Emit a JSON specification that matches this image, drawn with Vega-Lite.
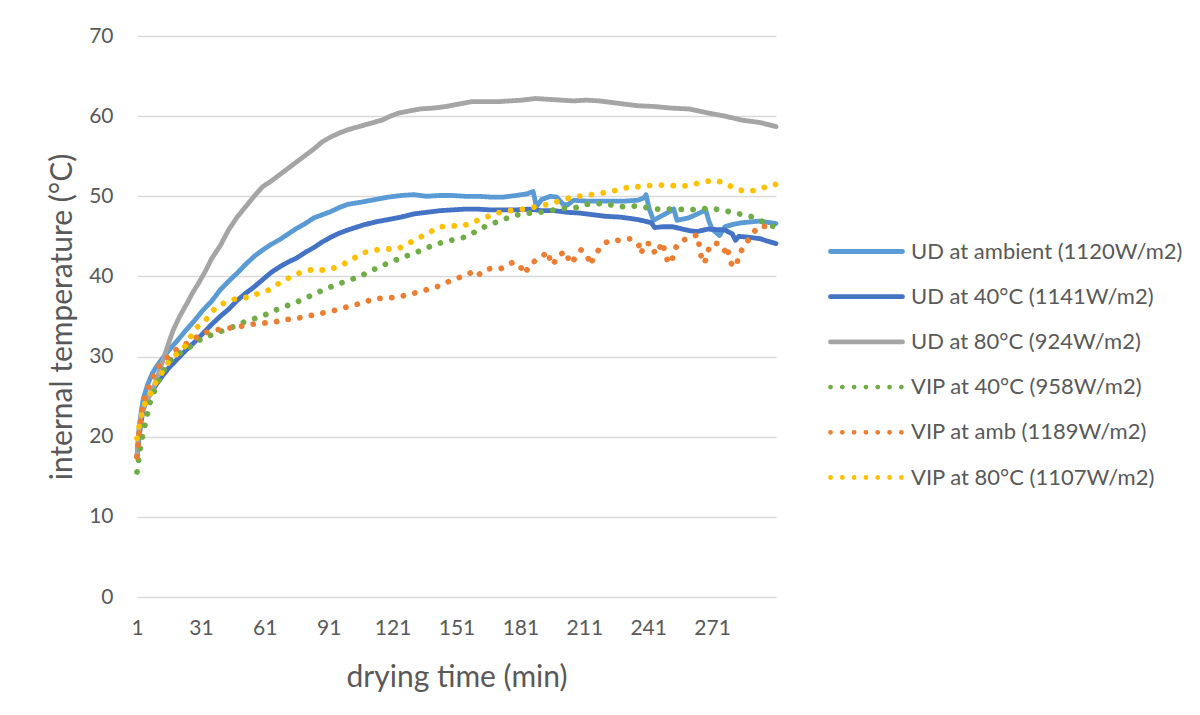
{
  "$schema": "https://vega.github.io/schema/vega-lite/v6.json",
  "autosize": "none",
  "width": 639,
  "height": 561,
  "padding": {"left": 137, "top": 36, "right": 424, "bottom": 118},
  "background": "white",
  "config": {
    "font": "Lato",
    "view": {"stroke": null},
    "axis": {
      "labelFont": "Lato",
      "titleFont": "Lato",
      "labelColor": "#595959",
      "titleColor": "#595959",
      "labelFontSize": 21,
      "titleFontSize": 30,
      "titleFontWeight": "normal",
      "gridColor": "#d9d9d9",
      "gridWidth": 1.3,
      "domain": false,
      "ticks": false,
      "tickSize": 0
    },
    "legend": {
      "labelFont": "Lato",
      "labelFontSize": 22,
      "labelColor": "#595959",
      "labelLimit": 400,
      "padding": 0
    }
  },
  "datasets": {
    "series": [
      {"s": "a", "name": "UD at ambient (1120W/m2)"},
      {"s": "b", "name": "UD at 40°C (1141W/m2)"},
      {"s": "c", "name": "UD at 80°C (924W/m2)"},
      {"s": "d", "name": "VIP at 40°C (958W/m2)"},
      {"s": "e", "name": "VIP at amb (1189W/m2)"},
      {"s": "f", "name": "VIP at 80°C (1107W/m2)"}
    ],
    "temps": [
      {"s":"a","t":1,"v":17.5},{"s":"a","t":2,"v":21},{"s":"a","t":3,"v":23.2},{"s":"a","t":4,"v":24.8},{"s":"a","t":6,"v":26.5},{"s":"a","t":8,"v":27.8},{"s":"a","t":10,"v":28.7},{"s":"a","t":13,"v":29.8},{"s":"a","t":16,"v":30.8},{"s":"a","t":20,"v":32.0},{"s":"a","t":24,"v":33.3},{"s":"a","t":28,"v":34.5},{"s":"a","t":32,"v":35.8},{"s":"a","t":36,"v":36.9},{"s":"a","t":40,"v":38.3},{"s":"a","t":44,"v":39.4},{"s":"a","t":48,"v":40.4},{"s":"a","t":52,"v":41.5},{"s":"a","t":56,"v":42.5},{"s":"a","t":60,"v":43.3},{"s":"a","t":64,"v":44.0},{"s":"a","t":68,"v":44.6},{"s":"a","t":72,"v":45.3},{"s":"a","t":76,"v":46.0},{"s":"a","t":80,"v":46.6},{"s":"a","t":84,"v":47.3},{"s":"a","t":88,"v":47.7},{"s":"a","t":92,"v":48.1},{"s":"a","t":96,"v":48.6},{"s":"a","t":100,"v":49.0},{"s":"a","t":107,"v":49.3},{"s":"a","t":113,"v":49.6},{"s":"a","t":119,"v":49.9},{"s":"a","t":125,"v":50.1},{"s":"a","t":131,"v":50.2},{"s":"a","t":137,"v":50.0},{"s":"a","t":143,"v":50.1},{"s":"a","t":149,"v":50.1},{"s":"a","t":155,"v":50.0},{"s":"a","t":161,"v":50.0},{"s":"a","t":167,"v":49.9},{"s":"a","t":173,"v":49.9},{"s":"a","t":179,"v":50.1},{"s":"a","t":184,"v":50.3},{"s":"a","t":187,"v":50.6},{"s":"a","t":188.5,"v":48.7},{"s":"a","t":191,"v":49.6},{"s":"a","t":195,"v":50.0},{"s":"a","t":198,"v":49.9},{"s":"a","t":201,"v":49.0},{"s":"a","t":203,"v":48.9},{"s":"a","t":206,"v":49.5},{"s":"a","t":212,"v":49.4},{"s":"a","t":218,"v":49.4},{"s":"a","t":224,"v":49.4},{"s":"a","t":230,"v":49.4},{"s":"a","t":236,"v":49.5},{"s":"a","t":239,"v":49.8},{"s":"a","t":240,"v":50.2},{"s":"a","t":241.5,"v":48.4},{"s":"a","t":243.5,"v":47.0},{"s":"a","t":247,"v":47.5},{"s":"a","t":253,"v":48.4},{"s":"a","t":254.5,"v":47.0},{"s":"a","t":260,"v":47.3},{"s":"a","t":265,"v":47.9},{"s":"a","t":268,"v":48.3},{"s":"a","t":269.5,"v":46.9},{"s":"a","t":271,"v":45.9},{"s":"a","t":274.5,"v":45.1},{"s":"a","t":277,"v":46.2},{"s":"a","t":281,"v":46.5},{"s":"a","t":285,"v":46.7},{"s":"a","t":293,"v":46.9},{"s":"a","t":301,"v":46.6},

      {"s":"b","t":1,"v":17.5},{"s":"b","t":2,"v":20},{"s":"b","t":3,"v":22},{"s":"b","t":4,"v":23.5},{"s":"b","t":6,"v":24.8},{"s":"b","t":8,"v":25.6},{"s":"b","t":10,"v":26.5},{"s":"b","t":13,"v":27.6},{"s":"b","t":16,"v":28.6},{"s":"b","t":20,"v":29.7},{"s":"b","t":24,"v":30.8},{"s":"b","t":28,"v":31.8},{"s":"b","t":32,"v":32.9},{"s":"b","t":36,"v":34.0},{"s":"b","t":40,"v":35.0},{"s":"b","t":44,"v":35.9},{"s":"b","t":48,"v":37.0},{"s":"b","t":52,"v":37.9},{"s":"b","t":56,"v":38.7},{"s":"b","t":60,"v":39.6},{"s":"b","t":64,"v":40.5},{"s":"b","t":68,"v":41.2},{"s":"b","t":72,"v":41.8},{"s":"b","t":76,"v":42.3},{"s":"b","t":80,"v":43.0},{"s":"b","t":84,"v":43.6},{"s":"b","t":88,"v":44.3},{"s":"b","t":92,"v":44.9},{"s":"b","t":96,"v":45.4},{"s":"b","t":100,"v":45.8},{"s":"b","t":107,"v":46.4},{"s":"b","t":113,"v":46.8},{"s":"b","t":119,"v":47.1},{"s":"b","t":125,"v":47.4},{"s":"b","t":131,"v":47.8},{"s":"b","t":137,"v":48.0},{"s":"b","t":143,"v":48.2},{"s":"b","t":149,"v":48.3},{"s":"b","t":155,"v":48.4},{"s":"b","t":161,"v":48.4},{"s":"b","t":167,"v":48.3},{"s":"b","t":173,"v":48.3},{"s":"b","t":179,"v":48.3},{"s":"b","t":185,"v":48.4},{"s":"b","t":191,"v":48.2},{"s":"b","t":197,"v":48.2},{"s":"b","t":203,"v":48.0},{"s":"b","t":209,"v":47.9},{"s":"b","t":215,"v":47.7},{"s":"b","t":221,"v":47.5},{"s":"b","t":228,"v":47.4},{"s":"b","t":236,"v":47.1},{"s":"b","t":242.5,"v":46.7},{"s":"b","t":244,"v":46.1},{"s":"b","t":248,"v":46.2},{"s":"b","t":252.5,"v":46.2},{"s":"b","t":257,"v":45.9},{"s":"b","t":260.6,"v":45.7},{"s":"b","t":264,"v":45.6},{"s":"b","t":269,"v":45.9},{"s":"b","t":277,"v":45.8},{"s":"b","t":280.5,"v":45.3},{"s":"b","t":282,"v":44.5},{"s":"b","t":283.5,"v":45.0},{"s":"b","t":288,"v":44.9},{"s":"b","t":293.6,"v":44.7},{"s":"b","t":297,"v":44.4},{"s":"b","t":301,"v":44.1},

      {"s":"c","t":1,"v":17.5},{"s":"c","t":2,"v":21},{"s":"c","t":3,"v":22.8},{"s":"c","t":5,"v":24.3},{"s":"c","t":7,"v":25.2},{"s":"c","t":9,"v":26.3},{"s":"c","t":11,"v":27.8},{"s":"c","t":13,"v":29.4},{"s":"c","t":16,"v":31.8},{"s":"c","t":18,"v":33.3},{"s":"c","t":21,"v":35.0},{"s":"c","t":24,"v":36.4},{"s":"c","t":27,"v":37.9},{"s":"c","t":30,"v":39.2},{"s":"c","t":33,"v":40.6},{"s":"c","t":36,"v":42.2},{"s":"c","t":40,"v":43.8},{"s":"c","t":44,"v":45.8},{"s":"c","t":48,"v":47.4},{"s":"c","t":52,"v":48.7},{"s":"c","t":56,"v":50.0},{"s":"c","t":60,"v":51.2},{"s":"c","t":64,"v":51.9},{"s":"c","t":68,"v":52.7},{"s":"c","t":72,"v":53.5},{"s":"c","t":76,"v":54.3},{"s":"c","t":80,"v":55.1},{"s":"c","t":84,"v":55.9},{"s":"c","t":88,"v":56.8},{"s":"c","t":92,"v":57.4},{"s":"c","t":96,"v":57.9},{"s":"c","t":100,"v":58.3},{"s":"c","t":104,"v":58.6},{"s":"c","t":108,"v":58.9},{"s":"c","t":112,"v":59.2},{"s":"c","t":116,"v":59.5},{"s":"c","t":120,"v":60.0},{"s":"c","t":124,"v":60.4},{"s":"c","t":128,"v":60.6},{"s":"c","t":134,"v":60.9},{"s":"c","t":140,"v":61.0},{"s":"c","t":146,"v":61.2},{"s":"c","t":152,"v":61.5},{"s":"c","t":158,"v":61.8},{"s":"c","t":164,"v":61.8},{"s":"c","t":170,"v":61.8},{"s":"c","t":176,"v":61.9},{"s":"c","t":182,"v":62.0},{"s":"c","t":188,"v":62.2},{"s":"c","t":194,"v":62.1},{"s":"c","t":200,"v":62.0},{"s":"c","t":206,"v":61.9},{"s":"c","t":212,"v":62.0},{"s":"c","t":218,"v":61.9},{"s":"c","t":224,"v":61.7},{"s":"c","t":230,"v":61.5},{"s":"c","t":236,"v":61.3},{"s":"c","t":244,"v":61.2},{"s":"c","t":252,"v":61.0},{"s":"c","t":260,"v":60.9},{"s":"c","t":269,"v":60.4},{"s":"c","t":277,"v":60.0},{"s":"c","t":285,"v":59.5},{"s":"c","t":293.6,"v":59.2},{"s":"c","t":301,"v":58.7},

      {"s":"d","t":1,"v":15.6},{"s":"d","t":2,"v":17.6},{"s":"d","t":3,"v":19.3},{"s":"d","t":4,"v":20.6},{"s":"d","t":5,"v":21.8},{"s":"d","t":6,"v":23},{"s":"d","t":7,"v":24.2},{"s":"d","t":9,"v":25.6},{"s":"d","t":11,"v":26.9},{"s":"d","t":14,"v":28.5},{"s":"d","t":17,"v":29.6},{"s":"d","t":22,"v":30.6},{"s":"d","t":27,"v":31.4},{"s":"d","t":31,"v":32.2},{"s":"d","t":37,"v":32.8},{"s":"d","t":42,"v":33.3},{"s":"d","t":47,"v":33.8},{"s":"d","t":52,"v":34.4},{"s":"d","t":57,"v":34.8},{"s":"d","t":62,"v":35.3},{"s":"d","t":66,"v":35.8},{"s":"d","t":71,"v":36.3},{"s":"d","t":76,"v":36.8},{"s":"d","t":81,"v":37.4},{"s":"d","t":85,"v":37.9},{"s":"d","t":90,"v":38.5},{"s":"d","t":95,"v":39.0},{"s":"d","t":100,"v":39.5},{"s":"d","t":105,"v":39.9},{"s":"d","t":110,"v":40.6},{"s":"d","t":115,"v":41.2},{"s":"d","t":120,"v":41.8},{"s":"d","t":125,"v":42.3},{"s":"d","t":130,"v":42.8},{"s":"d","t":135,"v":43.3},{"s":"d","t":140,"v":43.9},{"s":"d","t":145,"v":44.3},{"s":"d","t":150,"v":44.6},{"s":"d","t":155,"v":44.9},{"s":"d","t":160,"v":45.6},{"s":"d","t":165,"v":46.3},{"s":"d","t":170,"v":46.8},{"s":"d","t":175,"v":47.3},{"s":"d","t":180,"v":47.7},{"s":"d","t":185,"v":47.9},{"s":"d","t":190,"v":48.0},{"s":"d","t":195,"v":48.2},{"s":"d","t":200,"v":48.5},{"s":"d","t":206,"v":48.5},{"s":"d","t":212,"v":49.0},{"s":"d","t":217,"v":49.1},{"s":"d","t":222,"v":49.0},{"s":"d","t":228,"v":48.7},{"s":"d","t":233,"v":48.8},{"s":"d","t":238,"v":48.7},{"s":"d","t":243.7,"v":48.4},{"s":"d","t":249,"v":48.4},{"s":"d","t":254.5,"v":48.4},{"s":"d","t":259.6,"v":48.3},{"s":"d","t":265,"v":48.4},{"s":"d","t":270,"v":48.5},{"s":"d","t":275,"v":48.3},{"s":"d","t":280.5,"v":48.0},{"s":"d","t":285.4,"v":47.7},{"s":"d","t":290.6,"v":47.4},{"s":"d","t":295.6,"v":46.7},{"s":"d","t":301,"v":46.1},

      {"s":"e","t":1,"v":17.5},{"s":"e","t":2,"v":20.5},{"s":"e","t":3,"v":22.7},{"s":"e","t":4,"v":24.2},{"s":"e","t":5,"v":25.2},{"s":"e","t":7,"v":26.5},{"s":"e","t":9,"v":27.7},{"s":"e","t":11,"v":28.7},{"s":"e","t":15,"v":29.8},{"s":"e","t":19,"v":30.8},{"s":"e","t":23,"v":31.4},{"s":"e","t":27,"v":32.1},{"s":"e","t":32,"v":32.9},{"s":"e","t":37,"v":33.3},{"s":"e","t":43,"v":33.5},{"s":"e","t":48,"v":33.7},{"s":"e","t":53,"v":33.9},{"s":"e","t":58,"v":34.2},{"s":"e","t":64,"v":34.2},{"s":"e","t":70,"v":34.6},{"s":"e","t":75,"v":34.7},{"s":"e","t":80,"v":35.0},{"s":"e","t":86,"v":35.3},{"s":"e","t":91,"v":35.6},{"s":"e","t":96,"v":35.9},{"s":"e","t":101,"v":36.3},{"s":"e","t":107,"v":36.7},{"s":"e","t":112,"v":37.2},{"s":"e","t":117,"v":37.3},{"s":"e","t":123,"v":37.4},{"s":"e","t":128,"v":37.7},{"s":"e","t":134,"v":38.1},{"s":"e","t":139,"v":38.5},{"s":"e","t":144,"v":38.9},{"s":"e","t":149,"v":39.6},{"s":"e","t":154,"v":40.0},{"s":"e","t":159,"v":40.6},{"s":"e","t":161,"v":40.1},{"s":"e","t":164,"v":40.8},{"s":"e","t":169,"v":41.1},{"s":"e","t":172,"v":41.0},{"s":"e","t":177,"v":41.7},{"s":"e","t":180,"v":41.6},{"s":"e","t":183.2,"v":40.3},{"s":"e","t":185.2,"v":41.5},{"s":"e","t":190.2,"v":42.3},{"s":"e","t":194.1,"v":43.1},{"s":"e","t":194.9,"v":42.0},{"s":"e","t":196.2,"v":41.4},{"s":"e","t":198.8,"v":42.7},{"s":"e","t":202.7,"v":43.1},{"s":"e","t":204,"v":41.6},{"s":"e","t":205.8,"v":42.0},{"s":"e","t":209.5,"v":43.3},{"s":"e","t":212.1,"v":42.8},{"s":"e","t":214,"v":41.4},{"s":"e","t":214.9,"v":42.1},{"s":"e","t":217.9,"v":43.4},{"s":"e","t":222,"v":44.4},{"s":"e","t":227,"v":44.5},{"s":"e","t":232.5,"v":44.7},{"s":"e","t":235,"v":44.3},{"s":"e","t":236.5,"v":44.0},{"s":"e","t":237.6,"v":42.8},{"s":"e","t":239.3,"v":44.1},{"s":"e","t":242.6,"v":44.1},{"s":"e","t":244.2,"v":42.8},{"s":"e","t":245.5,"v":42.9},{"s":"e","t":247.5,"v":44.3},{"s":"e","t":248.5,"v":43.4},{"s":"e","t":250,"v":42.0},{"s":"e","t":252,"v":41.6},{"s":"e","t":253,"v":43.2},{"s":"e","t":255.7,"v":44.3},{"s":"e","t":260.6,"v":44.9},{"s":"e","t":264.3,"v":45.2},{"s":"e","t":265,"v":43.7},{"s":"e","t":266,"v":42.3},{"s":"e","t":267.6,"v":41.6},{"s":"e","t":268.5,"v":43.0},{"s":"e","t":271.4,"v":44.2},{"s":"e","t":275.2,"v":44.0},{"s":"e","t":276,"v":43.5},{"s":"e","t":277,"v":43.2},{"s":"e","t":278,"v":42.5},{"s":"e","t":278.5,"v":43.1},{"s":"e","t":280.1,"v":41.6},{"s":"e","t":282.5,"v":41.2},{"s":"e","t":283.4,"v":42.7},{"s":"e","t":286.5,"v":43.9},{"s":"e","t":289.5,"v":45.2},{"s":"e","t":293.1,"v":46.3},{"s":"e","t":297,"v":46.2},{"s":"e","t":301,"v":46.3},

      {"s":"f","t":1,"v":19.8},{"s":"f","t":2,"v":21.3},{"s":"f","t":3,"v":22.5},{"s":"f","t":4,"v":23.6},{"s":"f","t":5,"v":24.3},{"s":"f","t":6,"v":24.9},{"s":"f","t":8,"v":25.6},{"s":"f","t":10,"v":26.9},{"s":"f","t":13,"v":28.1},{"s":"f","t":16,"v":29.4},{"s":"f","t":20,"v":30.4},{"s":"f","t":24,"v":31.4},{"s":"f","t":27,"v":32.9},{"s":"f","t":30,"v":33.9},{"s":"f","t":35,"v":35.0},{"s":"f","t":38,"v":36.2},{"s":"f","t":43,"v":36.8},{"s":"f","t":48,"v":37.3},{"s":"f","t":54,"v":37.4},{"s":"f","t":58,"v":37.9},{"s":"f","t":63,"v":38.3},{"s":"f","t":68,"v":39.2},{"s":"f","t":73,"v":39.9},{"s":"f","t":77,"v":40.4},{"s":"f","t":82,"v":40.8},{"s":"f","t":88,"v":40.8},{"s":"f","t":93,"v":41.0},{"s":"f","t":97,"v":41.4},{"s":"f","t":103,"v":42.3},{"s":"f","t":108,"v":43.0},{"s":"f","t":113,"v":43.3},{"s":"f","t":118,"v":43.4},{"s":"f","t":124,"v":43.5},{"s":"f","t":129,"v":44.2},{"s":"f","t":134,"v":44.9},{"s":"f","t":139,"v":45.6},{"s":"f","t":143,"v":46.2},{"s":"f","t":149,"v":46.3},{"s":"f","t":154,"v":46.3},{"s":"f","t":159,"v":46.8},{"s":"f","t":165,"v":47.4},{"s":"f","t":170,"v":47.9},{"s":"f","t":175,"v":48.2},{"s":"f","t":180,"v":48.3},{"s":"f","t":185,"v":48.5},{"s":"f","t":190,"v":48.8},{"s":"f","t":196,"v":49.1},{"s":"f","t":201,"v":49.6},{"s":"f","t":206,"v":49.9},{"s":"f","t":211,"v":50.1},{"s":"f","t":217,"v":50.3},{"s":"f","t":222,"v":50.5},{"s":"f","t":227,"v":50.8},{"s":"f","t":232.7,"v":51.2},{"s":"f","t":238,"v":51.2},{"s":"f","t":243.4,"v":51.4},{"s":"f","t":249,"v":51.4},{"s":"f","t":254,"v":51.3},{"s":"f","t":259,"v":51.3},{"s":"f","t":265.6,"v":51.7},{"s":"f","t":271.4,"v":52.0},{"s":"f","t":276.8,"v":51.7},{"s":"f","t":282,"v":50.9},{"s":"f","t":287.3,"v":50.6},{"s":"f","t":292.7,"v":50.8},{"s":"f","t":298.2,"v":51.4},{"s":"f","t":301,"v":51.5}
    ]
  },
  "data": {"name": "temps"},
  "transform": [
    {"lookup": "s", "from": {"data": {"name": "series"}, "key": "s", "fields": ["name"]}}
  ],
  "encoding": {
    "x": {
      "field": "t",
      "type": "quantitative",
      "scale": {"domain": [1, 301], "nice": false, "zero": false},
      "axis": {
        "title": "drying time (min)",
        "values": [1, 31, 61, 91, 121, 151, 181, 211, 241, 271],
        "grid": false,
        "labelPadding": 20,
        "titlePadding": 24,
        "labelFlush": false
      }
    },
    "y": {
      "field": "v",
      "type": "quantitative",
      "scale": {"domain": [0, 70], "nice": false},
      "axis": {
        "title": "internal temperature (°C)",
        "values": [0, 10, 20, 30, 40, 50, 60, 70],
        "grid": true,
        "labelPadding": 24,
        "titlePadding": 11
      }
    },
    "color": {
      "field": "name",
      "type": "nominal",
      "scale": {
        "domain": ["UD at ambient (1120W/m2)", "UD at 40°C (1141W/m2)", "UD at 80°C (924W/m2)", "VIP at 40°C (958W/m2)", "VIP at amb (1189W/m2)", "VIP at 80°C (1107W/m2)"],
        "range": ["#5B9BD5", "#4472C4", "#A5A5A5", "#70AD47", "#ED7D31", "#FFC000"]
      },
      "legend": {
        "title": null,
        "orient": "none",
        "legendX": 691,
        "legendY": 203,
        "symbolType": "stroke",
        "symbolSize": 5184,
        "symbolStrokeWidth": 4.8,
        "labelOffset": 6,
        "clipHeight": 25,
        "rowPadding": 20.2,
        "encode": {"symbols": {"update": {"strokeCap": {"value": "round"}}}}
      }
    },
    "strokeDash": {
      "field": "name",
      "type": "nominal",
      "scale": {
        "domain": ["UD at ambient (1120W/m2)", "UD at 40°C (1141W/m2)", "UD at 80°C (924W/m2)", "VIP at 40°C (958W/m2)", "VIP at amb (1189W/m2)", "VIP at 80°C (1107W/m2)"],
        "range": [[1, 0], [1, 0], [1, 0], [0.01, 11.8], [0.01, 11.8], [0.01, 11.8]]
      },
      "legend": null
    }
  },
  "layer": [
    {
      "transform": [{"filter": {"field": "s", "oneOf": ["a", "b", "c"]}}],
      "mark": {"type": "line", "strokeWidth": 4.8, "strokeCap": "round", "strokeJoin": "round"}
    },
    {
      "transform": [{"filter": {"field": "s", "oneOf": ["d", "e", "f"]}}],
      "mark": {"type": "line", "strokeWidth": 5.8, "strokeCap": "round", "strokeJoin": "round"}
    }
  ]
}
